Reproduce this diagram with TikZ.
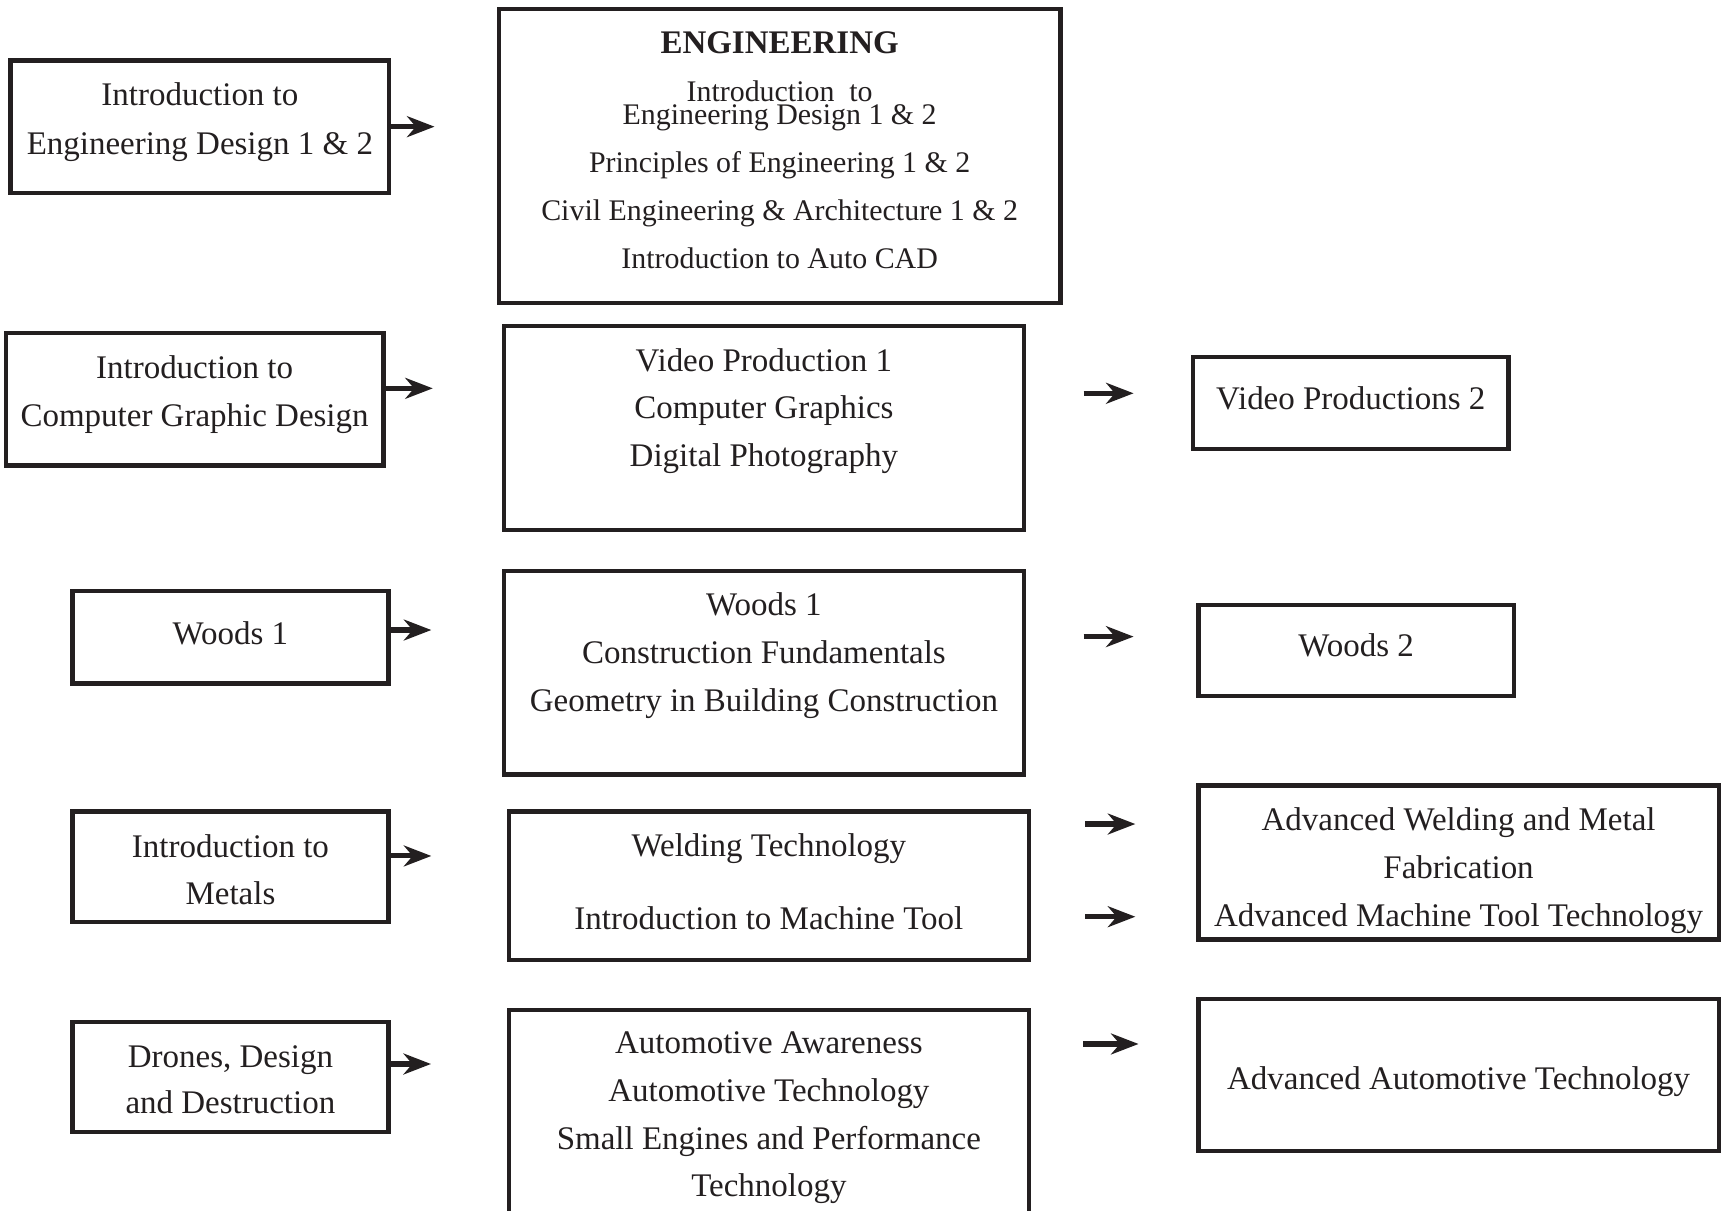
\documentclass[tikz,border=0pt]{standalone}
\usepackage{fontspec}
\setmainfont{Liberation Serif}
\usetikzlibrary{arrows.meta}
\definecolor{ink}{RGB}{35,31,32}

\begin{document}
\begin{tikzpicture}[x=1pt,y=-1pt,
    box/.style={draw=ink,line width=4pt,inner sep=0pt},
    txt/.style={anchor=north,inner sep=0pt,align=center,text=ink,font=\fontsize{30}{43.5}\selectfont},
    arr/.style={draw=ink,line width=4.6pt,-{Stealth[length=25pt,width=19pt,inset=8pt]}}]
    \useasboundingbox (0,0) rectangle (1568,1101);
    % boxes, left column
    \node[box,minimum width=344.4pt,minimum height=120.4pt] (introEng) at (181.8,115.2) {};
    \node[box,minimum width=343.7pt,minimum height=120.6pt] (introCG) at (177.05,363.1) {};
    \node[box,minimum width=287.6pt,minimum height=84.2pt] (woods1) at (209.6,579.5) {};
    \node[box,minimum width=287.6pt,minimum height=100.4pt] (metals) at (209.6,788.2) {};
    \node[box,minimum width=287.6pt,minimum height=100pt] (drones) at (209.6,979.7) {};
    % middle column
    \node[box,minimum width=510.8pt,minimum height=267.4pt] (eng) at (709.1,141.7) {};
    \node[box,minimum width=473.2pt,minimum height=185.5pt] (video) at (694.8,389.45) {};
    \node[box,minimum width=473.2pt,minimum height=185.2pt] (woods) at (694.8,611.8) {};
    \node[box,minimum width=473.2pt,minimum height=135.2pt] (welding) at (699.3,805.6) {};
    \node[box,minimum width=473.2pt,minimum height=186.5pt] (auto) at (699.3,1011.75) {};
    % right column
    \node[box,minimum width=286.7pt,minimum height=83.3pt] (video2) at (1228.65,366.55) {};
    \node[box,minimum width=287pt,minimum height=83pt] (woods2) at (1233.5,591.6) {};
    \node[box,minimum width=473.3pt,minimum height=140.1pt] (advWeld) at (1326.65,784.45) {};
    \node[box,minimum width=473.3pt,minimum height=138.5pt] (advAuto) at (1326.65,977.75) {};

    % texts
    \node[txt] (introEngT) at (181.8,75) {Introduction to\\[1pt]Engineering Design 1 \& 2};
    \node[txt] (introCGT) at (177,323) {Introduction to\\[0.7pt]Computer Graphic Design};
    \node[txt] (woods1T) at (209.6,564.8) {Woods 1};
    \node[txt] (metalsT) at (209.6,759) {Introduction to\\[-0.5pt]Metals};
    \node[txt] (dronesT) at (209.6,950.6) {Drones, Design\\[-1pt]and Destruction};
    \node[txt,font=\fontsize{27.2}{43.7}\selectfont] (engT) at (709.1,28.2)
        {{\fontsize{30}{43.7}\selectfont\bfseries ENGINEERING}\\
         Introduction\ \ to\\[-22.2pt]
         Engineering Design 1 \& 2\\
         Principles of Engineering 1 \& 2\\
         Civil Engineering \& Architecture 1 \& 2\\
         Introduction to Auto CAD};
    \node[txt] (videoT) at (694.8,316.5) {Video Production 1\\Computer Graphics\\Digital Photography};
    \node[txt] (woodsT) at (694.8,539) {Woods 1\\Construction Fundamentals\\Geometry in Building Construction};
    \node[txt] (weldingT) at (699.3,758) {Welding Technology\\[22.5pt]Introduction to Machine Tool};
    \node[txt] (autoT) at (699.3,938) {Automotive Awareness\\Automotive Technology\\Small Engines and Performance\\Technology};
    \node[txt] (video2T) at (1228.6,351.8) {Video Productions 2};
    \node[txt] (woods2T) at (1233.5,576.3) {Woods 2};
    \node[txt] (advWeldT) at (1326.6,734.5) {Advanced Welding and Metal\\Fabrication\\Advanced Machine Tool Technology};
    \node[txt] (advAutoT) at (1326.6,970) {Advanced Automotive Technology};

    % arrows
    \draw[arr,shorten >=56.5pt] (introEng.east) -- (introEng.east -| eng.west);
    \draw[arr,shorten >=62.6pt] ([yshift=9.9pt]introCG.east) -- ([yshift=9.9pt]introCG.east -| video.west);
    \draw[arr,shorten >=63.9pt] ([yshift=6.5pt]woods1.east) -- ([yshift=6.5pt]woods1.east -| woods.west);
    \draw[arr,shorten >=68.4pt] ([yshift=9.7pt]metals.east) -- ([yshift=9.7pt]metals.east -| welding.west);
    \draw[arr,shorten >=68.7pt] ([yshift=12pt]drones.east) -- ([yshift=12pt]drones.east -| auto.west);
    \draw[arr,shorten <=52.1pt,shorten >=52.3pt] ([yshift=8.85pt]video2.west -| video.east) -- ([yshift=8.85pt]video2.west);
    \draw[arr,shorten <=52.1pt,shorten >=57pt] ([yshift=12.6pt]woods2.west -| woods.east) -- ([yshift=12.6pt]woods2.west);
    \draw[arr,shorten <=49.1pt,shorten >=55.4pt] ([yshift=35pt]advWeld.west -| welding.east) -- ([yshift=35pt]advWeld.west);
    \draw[arr,shorten <=49.1pt,shorten >=55.4pt] ([yshift=-49.3pt]advWeld.west -| welding.east) -- ([yshift=-49.3pt]advWeld.west);
    \draw[arr,shorten <=47.1pt,shorten >=52.5pt] ([yshift=28.25pt]advAuto.west -| auto.east) -- ([yshift=28.25pt]advAuto.west);
\end{tikzpicture}
\end{document}
